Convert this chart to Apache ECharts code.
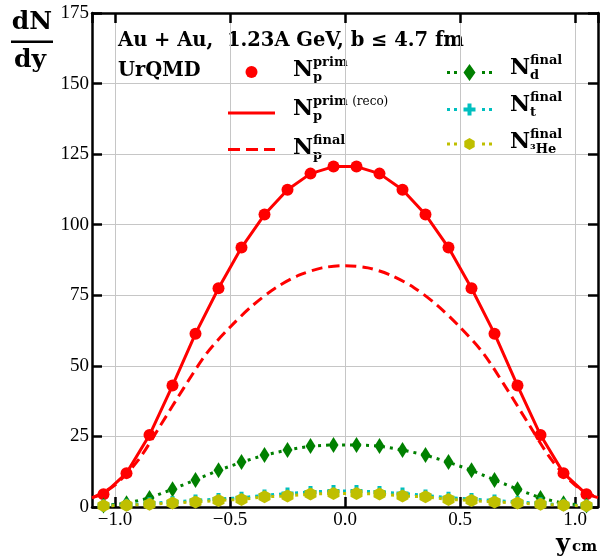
<!DOCTYPE html>
<html><head><meta charset="utf-8">
<script src="https://cdn.jsdelivr.net/npm/echarts@6/dist/echarts.min.js"></script>
<style>html,body{margin:0;padding:0;background:#fff}#c{width:603px;height:557px}</style>
</head><body><div id="c"></div>
<script>
// ---- data ----
const yBins = [-1.05,-0.95,-0.85,-0.75,-0.65,-0.55,-0.45,-0.35,-0.25,-0.15,-0.05,0.05,0.15,0.25,0.35,0.45,0.55,0.65,0.75,0.85,0.95,1.05];
const protonPrim = [4.5,12.0,25.5,43.0,61.4,77.5,91.9,103.6,112.4,118.1,120.6,120.6,118.1,112.4,103.6,91.9,77.5,61.4,43.0,25.5,12.0,4.5];
const recoX = [-1.1,-1.05,-0.95,-0.85,-0.75,-0.65,-0.55,-0.45,-0.35,-0.25,-0.15,-0.05,0.05,0.15,0.25,0.35,0.45,0.55,0.65,0.75,0.85,0.95,1.05,1.1];
const protonReco = [3.3,4.5,12.0,25.5,43.0,61.4,77.5,91.9,103.6,112.4,118.1,120.6,120.6,118.1,112.4,103.6,91.9,77.5,61.4,43.0,25.5,12.0,4.5,3.3];
const finalX = [-1.1,-1.0,-0.9,-0.8,-0.7,-0.6,-0.5,-0.4,-0.3,-0.2,-0.1,0.0,0.1,0.2,0.3,0.4,0.5,0.6,0.7,0.8,0.9,1.0,1.1];
const protonFinal = [3.2,7.8,16.5,29.2,42.3,54.6,63.7,71.5,77.7,82.1,84.7,85.5,84.7,82.1,77.7,71.5,63.7,54.6,42.3,29.2,16.5,7.8,3.2];
const deuteron = [0.5,1.3,3.2,6.3,9.6,13.0,15.9,18.4,20.2,21.6,22.0,22.0,21.6,20.2,18.4,15.9,13.0,9.6,6.3,3.2,1.3,0.5];
const triton = [0.5,0.8,1.3,1.8,2.3,2.8,3.3,4.1,4.8,5.3,5.7,5.7,5.3,4.8,4.1,3.3,2.8,2.3,1.8,1.3,0.8,0.5];
const helium3 = [0.4,0.6,1.0,1.4,1.8,2.3,2.7,3.6,3.9,4.6,4.8,4.8,4.6,3.9,3.6,2.7,2.3,1.8,1.4,1.0,0.6,0.4];
const yTicks = [0,25,50,75,100,125,150,175];

const pairs = (xs, ys) => xs.map((x,i)=>[x, ys[i]]);
const FONT = 'DejaVu Serif';
const TICKFONT = 'Liberation Serif';
const RED = '#ff0000', GREEN = '#008000', CYAN = '#00bfbf', YEL = '#bfbf00';

const plusPath = 'path://M4,0H8V4H12V8H8V12H4V8H0V4H4Z';
const hexPath = 'path://M5,0L9.33,2.5L9.33,7.5L5,10L0.67,7.5L0.67,2.5Z';
const diamondPath = 'path://M5,0L10,8L5,16L0,8Z';

const iconReco = 'path://M0,0H47V3H0Z';
const iconFinal = 'path://M0,0H12V3H0Z M18,0H30V3H18Z M36,0H47V3H36Z';
const iconD = 'path://M0,7H3V10H0Z M7,7H10V10H7Z M16.5,8.5L22.5,0L28.5,8.5L22.5,17Z M35,7H38V10H35Z M42,7H45V10H42Z';
const iconT = 'path://M0,4.5H3V7.5H0Z M7,4.5H10V7.5H7Z M16.5,4H28.5V8H16.5Z M20.5,0H24.5V12H20.5Z M35,4.5H38V7.5H35Z M42,4.5H45V7.5H42Z';
const iconHe = 'path://M0,4.5H3V7.5H0Z M7,4.5H10V7.5H7Z M22.5,0L27.7,3L27.7,9L22.5,12L17.3,9L17.3,3Z M35,4.5H38V7.5H35Z M42,4.5H45V7.5H42Z';

const fmtX = v => {
  const s = Math.abs(v).toFixed(1);
  return v < 0 ? '\u2212' + s : s;
};

function label(x, cy, sup, sub, supRich) {
  const base = {fontFamily: FONT, fontWeight: 'bold', fill: '#000', verticalAlign: 'middle', align: 'left'};
  return {
    type: 'group',
    children: [
      {type: 'text', x: x, y: cy, style: Object.assign({}, base, {text: 'N', fontSize: 22})},
      {type: 'text', x: x + 20, y: cy - 7, style: Object.assign({}, base, {text: sup, fontSize: 13, rich: supRich || undefined})},
      {type: 'text', x: x + 20, y: cy + 8, style: Object.assign({}, base, {text: sub, fontSize: 13})}
    ]
  };
}

function axisCommon() {
  return {
    axisLine: {show: true, onZero: false, lineStyle: {color: '#000', width: 2.5}},
    axisTick: {show: true, inside: true, length: 10, lineStyle: {color: '#000', width: 2.5}}
  };
}

const option = {
  animation: false,
  backgroundColor: '#fff',
  grid: {left: 92, right: 5, top: 13, bottom: 50, containLabel: false},
  xAxis: [
    Object.assign({
      type: 'value', min: -1.1, max: 1.1, position: 'bottom',
      axisLabel: {formatter: fmtX, showMinLabel: false, showMaxLabel: false, margin: 4,
        fontFamily: TICKFONT, fontSize: 19, color: '#000'},
      splitLine: {show: true, lineStyle: {color: '#c6c6c6', width: 1}}
    }, axisCommon()),
    Object.assign({
      type: 'value', min: -1.1, max: 1.1, position: 'top',
      axisLabel: {show: false}, splitLine: {show: false}
    }, axisCommon())
  ],
  yAxis: [
    Object.assign({
      type: 'value', min: yTicks[0], max: yTicks[yTicks.length-1], interval: 25, position: 'left',
      axisLabel: {margin: 3, fontFamily: TICKFONT, fontSize: 19, color: '#000'},
      splitLine: {show: true, lineStyle: {color: '#c6c6c6', width: 1}}
    }, axisCommon()),
    Object.assign({
      type: 'value', min: yTicks[0], max: yTicks[yTicks.length-1], interval: 25, position: 'right',
      axisLabel: {show: false}, splitLine: {show: false}
    }, axisCommon())
  ],
  legend: [
    {
      orient: 'vertical', left: 223, top: 61, itemWidth: 47, itemHeight: 12, itemGap: 29,
      selectedMode: false, formatter: () => '', itemStyle: {borderWidth: 0},
      data: [
        {name: 'prim', icon: 'circle'},
        {name: 'reco', icon: iconReco},
        {name: 'final', icon: iconFinal}
      ]
    },
    {
      orient: 'vertical', left: 442, top: 59, itemWidth: 45, itemHeight: 17, itemGap: 20,
      selectedMode: false, formatter: () => '', itemStyle: {borderWidth: 0},
      data: [
        {name: 'd', icon: iconD},
        {name: 't', icon: iconT},
        {name: 'he3', icon: iconHe}
      ]
    }
  ],
  series: [
    {name: 'prim', type: 'scatter', data: pairs(yBins, protonPrim), symbol: 'circle', symbolSize: 12,
      itemStyle: {color: RED, opacity: 1}, z: 3},
    {name: 'reco', type: 'line', data: pairs(recoX, protonReco), symbol: 'none', color: RED,
      lineStyle: {color: RED, width: 3}, z: 2},
    {name: 'final', type: 'line', data: pairs(finalX, protonFinal), symbol: 'none', smooth: 0.3, color: RED,
      lineStyle: {color: RED, width: 3, type: [11, 6]}, z: 2},
    {name: 'd', type: 'line', data: pairs(yBins, deuteron), symbol: diamondPath, symbolSize: [10, 16], color: GREEN,
      itemStyle: {color: GREEN}, lineStyle: {color: GREEN, width: 3, type: [3, 5]}, z: 4},
    {name: 't', type: 'line', data: pairs(yBins, triton), symbol: plusPath, symbolSize: 12, color: CYAN,
      itemStyle: {color: CYAN}, lineStyle: {color: CYAN, width: 3, type: [3, 5]}, z: 5},
    {name: 'he3', type: 'line', data: pairs(yBins, helium3), symbol: hexPath, symbolSize: [12, 13], color: YEL,
      itemStyle: {color: YEL}, lineStyle: {color: YEL, width: 3, type: [3, 5]}, z: 6}
  ],
  graphic: [
    {type: 'text', x: 32, y: 22, style: {text: 'dN', fontFamily: FONT, fontWeight: 'bold', fontSize: 25, fill: '#000', align: 'center', verticalAlign: 'middle'}},
    {type: 'rect', shape: {x: 11, y: 40.5, width: 42, height: 2.5}, style: {fill: '#000'}},
    {type: 'text', x: 30, y: 60, style: {text: 'dy', fontFamily: FONT, fontWeight: 'bold', fontSize: 25, fill: '#000', align: 'center', verticalAlign: 'middle'}},
    {type: 'text', x: 556, y: 545, style: {text: 'y', fontFamily: FONT, fontWeight: 'bold', fontSize: 24, fill: '#000', align: 'left', verticalAlign: 'middle'}},
    {type: 'text', x: 572, y: 547, style: {text: 'cm', fontFamily: FONT, fontWeight: 'bold', fontSize: 15, fill: '#000', align: 'left', verticalAlign: 'middle'}},
    {type: 'text', x: 118, y: 41, style: {text: 'Au + Au,  1.23A GeV, b \u2264 4.7 fm', fontFamily: FONT, fontWeight: 'bold', fontSize: 19.5, fill: '#000', align: 'left', verticalAlign: 'middle'}},
    {type: 'text', x: 118, y: 71, style: {text: 'UrQMD', fontFamily: FONT, fontWeight: 'bold', fontSize: 19.5, fill: '#000', align: 'left', verticalAlign: 'middle'}},
    label(293, 70, 'prim', 'p'),
    label(293, 109, '{b|prim} {n|(reco)}', 'p', {b: {fontWeight: 'bold', fontSize: 13, fontFamily: FONT}, n: {fontWeight: 'normal', fontSize: 12, fontFamily: FONT}}),
    label(293, 148, 'final', 'p'),
    label(510, 68, 'final', 'd'),
    label(510, 105, 'final', 't'),
    label(510, 142, 'final', '\u00b3He')
  ]
};

const chart = echarts.init(document.getElementById('c'), null, {renderer: 'canvas'});
chart.setOption(option);
</script>
</body></html>
